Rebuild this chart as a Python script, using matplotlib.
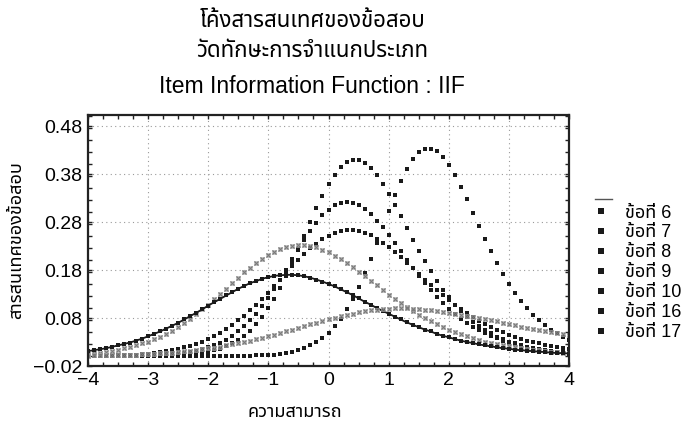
import numpy as np
import matplotlib
matplotlib.use("Agg")
import matplotlib.pyplot as plt
from matplotlib.lines import Line2D
from matplotlib.ticker import MultipleLocator

plt.rcParams["font.family"] = ["Liberation Sans", "Noto Sans Thai", "Loma", "Garuda", "DejaVu Sans"]

# ability scale, one point every 0.1
theta = np.linspace(-4, 4, 81)

item6 = [0, 0, 0, 0, 0, 0, 0, 0, 0, 0,
         0.001, 0.001, 0.001, 0.001, 0.002, 0.002, 0.003, 0.004, 0.006, 0.008,
         0.010, 0.013, 0.016, 0.021, 0.027, 0.034, 0.043, 0.054, 0.067, 0.082,
         0.100, 0.120, 0.142, 0.167, 0.194, 0.222, 0.251, 0.280, 0.309, 0.335,
         0.359, 0.379, 0.394, 0.405, 0.410, 0.409, 0.403, 0.393, 0.378, 0.359,
         0.338, 0.316, 0.292, 0.267, 0.243, 0.220, 0.198, 0.177, 0.157, 0.139,
         0.123, 0.108, 0.095, 0.083, 0.072, 0.063, 0.055, 0.048, 0.041, 0.036,
         0.031, 0.027, 0.023, 0.020, 0.017, 0.015, 0.013, 0.011, 0.010, 0.008,
         0.007]
item7 = [0, 0, 0, 0, 0, 0, 0.001, 0.001, 0.001, 0.001,
         0.002, 0.002, 0.003, 0.004, 0.005, 0.006, 0.007, 0.009, 0.012, 0.015,
         0.019, 0.023, 0.029, 0.035, 0.043, 0.052, 0.063, 0.075, 0.089, 0.105,
         0.122, 0.141, 0.160, 0.181, 0.202, 0.223, 0.243, 0.262, 0.279, 0.294,
         0.306, 0.315, 0.320, 0.322, 0.320, 0.315, 0.307, 0.296, 0.283, 0.269,
         0.253, 0.236, 0.219, 0.201, 0.185, 0.168, 0.153, 0.138, 0.124, 0.111,
         0.099, 0.089, 0.079, 0.070, 0.062, 0.055, 0.048, 0.043, 0.038, 0.033,
         0.029, 0.026, 0.022, 0.020, 0.017, 0.015, 0.013, 0.012, 0.010, 0.009,
         0.008]
item8 = [0.001, 0.001, 0.001, 0.001, 0.002, 0.002, 0.003, 0.003, 0.004, 0.005,
         0.006, 0.007, 0.009, 0.011, 0.013, 0.016, 0.019, 0.022, 0.026, 0.031,
         0.036, 0.043, 0.049, 0.057, 0.066, 0.075, 0.085, 0.096, 0.108, 0.120,
         0.133, 0.147, 0.160, 0.174, 0.188, 0.201, 0.213, 0.225, 0.235, 0.244,
         0.251, 0.257, 0.261, 0.263, 0.263, 0.261, 0.257, 0.252, 0.245, 0.237,
         0.228, 0.217, 0.207, 0.195, 0.184, 0.172, 0.160, 0.149, 0.138, 0.127,
         0.117, 0.107, 0.098, 0.090, 0.082, 0.074, 0.067, 0.061, 0.055, 0.050,
         0.045, 0.041, 0.037, 0.033, 0.030, 0.027, 0.024, 0.021, 0.019, 0.017,
         0.015]
item9 = [0, 0, 0, 0, 0, 0, 0, 0, 0, 0,
         0, 0, 0, 0, 0, 0, 0, 0, 0, 0,
         0, 0, 0, 0, 0, 0.001, 0.001, 0.001, 0.002, 0.002,
         0.003, 0.004, 0.006, 0.007, 0.010, 0.013, 0.017, 0.023, 0.030, 0.039,
         0.049, 0.063, 0.079, 0.098, 0.120, 0.145, 0.173, 0.204, 0.237, 0.270,
         0.304, 0.336, 0.366, 0.391, 0.411, 0.425, 0.433, 0.433, 0.428, 0.416,
         0.399, 0.377, 0.353, 0.327, 0.299, 0.272, 0.245, 0.219, 0.195, 0.172,
         0.151, 0.132, 0.116, 0.100, 0.087, 0.075, 0.065, 0.056, 0.048, 0.041,
         0.035]
item10 = [0.006, 0.007, 0.008, 0.010, 0.012, 0.014, 0.017, 0.019, 0.023, 0.027,
          0.031, 0.036, 0.041, 0.047, 0.054, 0.062, 0.070, 0.078, 0.088, 0.098,
          0.108, 0.119, 0.130, 0.141, 0.152, 0.164, 0.175, 0.185, 0.195, 0.204,
          0.212, 0.218, 0.224, 0.228, 0.231, 0.232, 0.232, 0.230, 0.227, 0.222,
          0.217, 0.210, 0.203, 0.194, 0.186, 0.176, 0.167, 0.157, 0.148, 0.138,
          0.129, 0.120, 0.111, 0.102, 0.094, 0.087, 0.080, 0.073, 0.067, 0.061,
          0.056, 0.051, 0.046, 0.042, 0.038, 0.034, 0.031, 0.028, 0.026, 0.023,
          0.021, 0.019, 0.017, 0.015, 0.014, 0.013, 0.011, 0.010, 0.009, 0.008,
          0.007]
item16 = [0.011, 0.013, 0.015, 0.017, 0.020, 0.023, 0.026, 0.029, 0.033, 0.037,
          0.042, 0.047, 0.052, 0.058, 0.064, 0.070, 0.077, 0.084, 0.091, 0.098,
          0.106, 0.113, 0.120, 0.127, 0.134, 0.141, 0.147, 0.153, 0.157, 0.162,
          0.165, 0.168, 0.169, 0.170, 0.170, 0.169, 0.167, 0.164, 0.160, 0.156,
          0.151, 0.146, 0.140, 0.134, 0.128, 0.121, 0.114, 0.108, 0.101, 0.095,
          0.089, 0.083, 0.077, 0.071, 0.066, 0.061, 0.056, 0.052, 0.047, 0.043,
          0.040, 0.036, 0.033, 0.030, 0.028, 0.025, 0.023, 0.021, 0.019, 0.017,
          0.016, 0.014, 0.013, 0.012, 0.011, 0.010, 0.009, 0.008, 0.007, 0.007,
          0.006]
item17 = [0.001, 0.002, 0.002, 0.002, 0.002, 0.003, 0.003, 0.004, 0.004, 0.005,
          0.005, 0.006, 0.007, 0.007, 0.008, 0.009, 0.011, 0.012, 0.013, 0.015,
          0.017, 0.018, 0.020, 0.023, 0.025, 0.027, 0.030, 0.033, 0.036, 0.039,
          0.042, 0.045, 0.049, 0.052, 0.056, 0.059, 0.063, 0.067, 0.070, 0.074,
          0.077, 0.081, 0.084, 0.087, 0.089, 0.092, 0.094, 0.096, 0.097, 0.098,
          0.099, 0.100, 0.100, 0.100, 0.099, 0.099, 0.097, 0.096, 0.094, 0.092,
          0.091, 0.089, 0.087, 0.085, 0.083, 0.081, 0.079, 0.076, 0.073, 0.070,
          0.068, 0.065, 0.062, 0.060, 0.058, 0.056, 0.053, 0.051, 0.048, 0.046,
          0.044]

labels = ["ข้อที่ 6", "ข้อที่ 7", "ข้อที่ 8", "ข้อที่ 9", "ข้อที่ 10", "ข้อที่ 16", "ข้อที่ 17"]
yticks = [-0.02, 0.08, 0.18, 0.28, 0.38, 0.48]

fig = plt.figure(figsize=(6.91, 4.26), dpi=100)
ax = fig.add_axes([0.1274, 0.1408, 0.6960, 0.5892])

sq = dict(linestyle="none", marker="s", ms=2.6, mew=0, color="#1a1a1a")
cross = dict(linestyle="none", marker="x", ms=3.2, mew=0.9, color="#7a7a7a")
box = dict(linestyle="none", marker="s", ms=3.4, mfc="none", mew=0.5, mec="#b0b0b0")

for vals in (item6, item7, item8, item9):
    ax.plot(theta, vals, **sq)
ax.plot(theta, item10, **box)
ax.plot(theta, item10, **cross)
ax.plot(theta, item16, color="#1a1a1a", lw=1.3, marker="s", ms=2.6, mew=0)
ax.plot(theta, item17, **box)
ax.plot(theta, item17, **cross)

ax.set_xlim(-4, 4)
ax.set_ylim(-0.02, 0.503)
ax.set_xticks(range(-4, 5))
ax.set_xticklabels([str(v).replace("-", "\u2212") for v in range(-4, 5)])
ax.set_yticks(yticks)
ax.set_yticklabels([f"{v:.2f}".replace("-", "\u2212") for v in yticks])
ax.xaxis.set_minor_locator(MultipleLocator(0.25))
ax.yaxis.set_minor_locator(MultipleLocator(0.025))
ax.tick_params(which="both", direction="in", top=True, right=True,
               length=3, width=1, color="#222222")
ax.tick_params(which="major", labelsize=14, pad=4)

ax.grid(True, which="major", color="#9a9a9a", lw=0.8, linestyle=(0, (1, 3)))
for s in ax.spines.values():
    s.set_linewidth(1.6)
    s.set_color("#222222")

ax.set_xlabel("ความสามารถ", fontsize=13)
ax.xaxis.set_label_coords(0.43, -0.15)
ax.set_ylabel("สารสนเทศของข้อสอบ", fontsize=13, labelpad=6)

fig.text(0.452, 0.950, "โค้งสารสนเทศของข้อสอบ", ha="center", va="center", fontsize=16)
fig.text(0.452, 0.878, "วัดทักษะการจำแนกประเภท", ha="center", va="center", fontsize=16)
fig.text(0.452, 0.797, "Item Information Function : IIF", ha="center", va="center", fontsize=16.5)

# short rule above the legend entries
ax.plot([1.054, 1.089], [0.665, 0.665], transform=ax.transAxes, clip_on=False,
        color="#555555", lw=1)

handles = [Line2D([], [], linestyle="none", marker="s", ms=4, mew=0, color="#1a1a1a")
           for _ in labels]
ax.legend(handles, labels, loc="upper left", bbox_to_anchor=(1.033, 0.672),
          frameon=False, fontsize=13, handlelength=1.0, handletextpad=0.83,
          labelspacing=0.16, borderaxespad=0)

fig.savefig("out.png", dpi=100)
